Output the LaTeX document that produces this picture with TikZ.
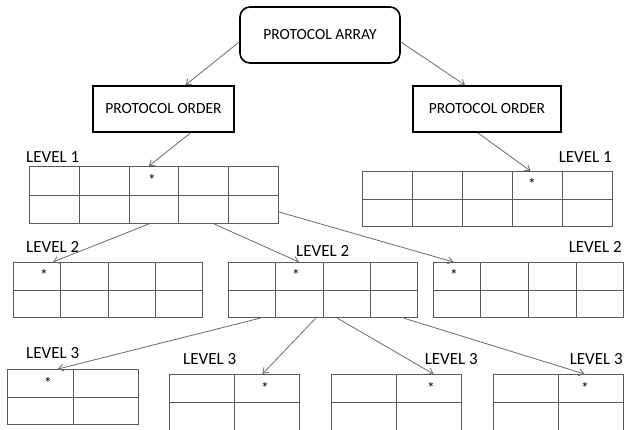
\documentclass[tikz,border=0pt]{standalone}
\usepackage{fontspec}
\setmainfont{Carlito}
\usetikzlibrary{arrows.meta, calc}

\definecolor{gridgray}{HTML}{5A5A5A}
\definecolor{linkgray}{HTML}{6A6A6A}

\tikzset{
  titlebox/.style={draw, line width=1.6pt, rounded corners=10pt, inner sep=0pt, font=\fontsize{15.5}{18}\selectfont},
  orderbox/.style={draw, line width=1.8pt, inner sep=0pt, minimum height=46pt, font=\fontsize{15.5}{18}\selectfont},
  gridbox/.style={draw=gridgray, line width=0.9pt, inner sep=0pt, anchor=north west},
  gridline/.style={draw=gridgray, line width=0.9pt},
  link/.style={draw=linkgray, line width=0.8pt, -{Straight Barb[length=5pt,width=7pt]}},
  lvl/.style={inner sep=0pt, font=\fontsize{17}{20}\selectfont},
  starmark/.style={inner sep=0pt, anchor=base, font=\fontsize{15.5}{18}\selectfont}
}

% grid of cells: name, left, top, width, height, columns
\newcommand\cellgrid[6]{%
  \node[gridbox, minimum width=#4pt, minimum height=#5pt] (#1) at (#2,#3) {};
  \draw[gridline] (#1.west) -- (#1.east);
  \pgfmathtruncatemacro\lastcol{#6-1}
  \foreach \k in {1,...,\lastcol}
    \draw[gridline] ($(#1.north west)!\k/#6!(#1.north east)$) -- ($(#1.south west)!\k/#6!(#1.south east)$);
}

\begin{document}
\begin{tikzpicture}[x=1pt, y=-1pt]
    \useasboundingbox (0,0) rectangle (624,429);
    \clip (0,0) rectangle (624,429);

    % Top boxes
    \node[titlebox, minimum width=160pt, minimum height=56pt] (arr) at (320,35) {PROTOCOL ARRAY};
    \node[orderbox, minimum width=141pt] (ordL) at (163.5,109) {PROTOCOL ORDER};
    \node[orderbox, minimum width=148pt] (ordR) at (487,109) {PROTOCOL ORDER};

    % Level 1
    \cellgrid{gA}{29}{166}{249}{57}{5}
    \cellgrid{gB}{362}{171}{250}{55}{5}
    % Level 2
    \cellgrid{gC}{13}{262}{189}{55}{4}
    \cellgrid{gD}{228}{262}{189}{55}{4}
    \cellgrid{gE}{433}{262}{190}{55}{4}
    % Level 3
    \cellgrid{gF}{7}{369}{131}{55}{2}
    \cellgrid{gG}{169}{374}{130}{56}{2}
    \cellgrid{gH}{331}{374}{130}{56}{2}
    \cellgrid{gI}{493}{374}{130}{56}{2}

    % Labels
    \node[lvl, anchor=base west] (lA) at (26,162) {LEVEL 1};
    \node[lvl, anchor=base east] (lB) at (612,162) {LEVEL 1};
    \node[lvl, anchor=base west] (lC) at (26,252) {LEVEL 2};
    \node[lvl, anchor=base west] (lD) at (296,256) {LEVEL 2};
    \node[lvl, anchor=base east] (lE) at (622,252) {LEVEL 2};
    \node[lvl, anchor=base west] (lF) at (26,358) {LEVEL 3};
    \node[lvl, anchor=base west] (lG) at (183,364) {LEVEL 3};
    \node[lvl, anchor=base east] (lH) at (478,364) {LEVEL 3};
    \node[lvl, anchor=base east] (lI) at (623,364) {LEVEL 3};

    % Selected cells
    \node[starmark] (sA) at (152,185) {*};
    \node[starmark] (sB) at (532,189) {*};
    \node[starmark] (sC) at (44,280) {*};
    \node[starmark] (sD) at (296,280) {*};
    \node[starmark] (sE) at (454,280) {*};
    \node[starmark] (sF) at (48,388) {*};
    \node[starmark] (sG) at (265,393) {*};
    \node[starmark] (sH) at (431,393) {*};
    \node[starmark] (sI) at (585,393) {*};

    % Links
    \draw[link] ([yshift=-7pt]arr.west) -- ([xshift=22pt]ordL.north);
    \draw[link] ([yshift=-7pt]arr.east) -- ([xshift=-22pt]ordR.north);
    \draw[link] ([xshift=27pt]ordL.south) -- ([xshift=-5pt]gA.north);
    \draw[link] ([xshift=-9pt]ordR.south) -- ([xshift=43pt]gB.north);
    \draw[link] ([xshift=-5pt]gA.south) -- ([xshift=-55pt]gC.north);
    \draw[link] ([xshift=60pt]gA.south) -- ([xshift=-24pt]gD.north);
    \draw[link] ([yshift=-17pt]gA.east) -- ([xshift=-75pt]gE.north);
    \draw[link] ([xshift=-62pt]gD.south) -- ([xshift=-15pt]gF.north);
    \draw[link] ([xshift=-7pt]gD.south) -- ([xshift=28pt]gG.north);
    \draw[link] ([xshift=14pt]gD.south) -- ([xshift=37pt]gH.north);
    \draw[link] ([xshift=80pt]gD.south) -- ([xshift=26pt]gI.north);
\end{tikzpicture}
\end{document}
